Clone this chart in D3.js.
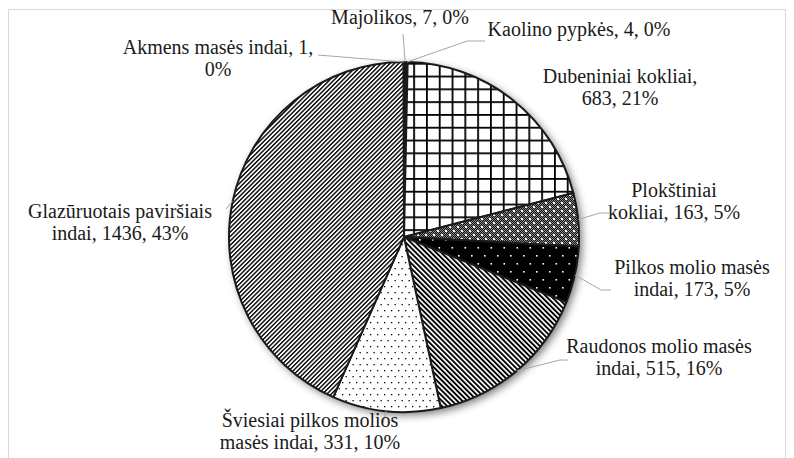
<!DOCTYPE html>
<html>
<head>
<meta charset="utf-8">
<script src="https://cdn.jsdelivr.net/npm/d3@7"></script>
<style>
  body { margin: 0; background: #fff; }
  svg text { font-family: "Liberation Serif", "Times New Roman", serif; fill: #1a1a1a; }
</style>
</head>
<body>
<div id="chart"></div>
<script>
// categories in clockwise order from 12 o'clock
const categories = [
  "Majolikos", "Kaolino pypkės", "Dubeniniai kokliai", "Plokštiniai kokliai",
  "Pilkos molio masės indai", "Raudonos molio masės indai",
  "Šviesiai pilkos molios masės indai", "Glazūruotais paviršiais indai",
  "Akmens masės indai"
];
const counts = [7, 4, 683, 163, 173, 515, 331, 1436, 1];
const percents = ["0%", "0%", "21%", "5%", "5%", "16%", "10%", "43%", "0%"];
// label text, broken into lines as in the original
const labelLines = [
  ["Majolikos, 7, 0%"],
  ["Kaolino pypkės, 4, 0%"],
  ["Dubeniniai kokliai,", "683, 21%"],
  ["Plokštiniai", "kokliai, 163, 5%"],
  ["Pilkos molio masės", "indai, 173, 5%"],
  ["Raudonos molio masės", "indai, 515, 16%"],
  ["Šviesiai pilkos molios", "masės indai, 331, 10%"],
  ["Glazūruotais paviršiais", "indai, 1436, 43%"],
  ["Akmens masės indai, 1,", "0%"]
];
const fills = ["black", "black", "url(#grid)", "url(#checker)", "url(#blackdots)",
  "url(#bstripes)", "url(#dots)", "url(#fstripes)", "url(#fstripes)"];

// layout: label centre [x, baseline of first line], leader points (null = no leader)
const labelLayout = [
  { c: [400, 24], leader: [[403, 34]] },
  { c: [579, 36], leader: [[467, 41], [485, 41]] },
  { c: [620, 83], leader: null },
  { c: [674, 197], leader: [[600, 213], [609, 213]] },
  { c: [692, 274], leader: [[601, 290], [611, 290]] },
  { c: [659, 353], leader: [[560, 360], [568, 360]] },
  { c: [310, 427], leader: [[383, 423]] },
  { c: [120, 218], leader: [[226, 209]] },
  { c: [218, 54], leader: [[318, 55]] }
];

const W = 794, H = 458;
const cx = 404, cy = 237, R = 175;

const svg = d3.select("#chart").append("svg")
  .attr("width", W).attr("height", H);

const defs = svg.append("defs");

const shadow = defs.append("filter").attr("id", "shadow")
  .attr("x", "-20%").attr("y", "-20%").attr("width", "140%").attr("height", "140%");
shadow.append("feGaussianBlur").attr("in", "SourceAlpha").attr("stdDeviation", 4).attr("result", "b");
shadow.append("feOffset").attr("in", "b").attr("dx", 3).attr("dy", 3).attr("result", "o");
shadow.append("feComponentTransfer").attr("in", "o").attr("result", "s")
  .append("feFuncA").attr("type", "linear").attr("slope", 0.55);
const merge = shadow.append("feMerge");
merge.append("feMergeNode").attr("in", "s");
merge.append("feMergeNode").attr("in", "SourceGraphic");

// grid pattern
const grid = defs.append("pattern").attr("id", "grid").attr("patternUnits", "userSpaceOnUse")
  .attr("width", 12.8).attr("height", 12.8).attr("x", cx + 2).attr("y", 5);
grid.append("rect").attr("width", 12.8).attr("height", 12.8).attr("fill", "#fff");
grid.append("rect").attr("width", 1.8).attr("height", 12.8).attr("fill", "#000");
grid.append("rect").attr("width", 12.8).attr("height", 1.8).attr("fill", "#000");

// dark checker + white dots
const checker = defs.append("pattern").attr("id", "checker").attr("patternUnits", "userSpaceOnUse")
  .attr("width", 8).attr("height", 8);
checker.append("rect").attr("width", 8).attr("height", 8).attr("fill", "#888");
for (let i = 0; i < 8; i++) {
  for (let j = 0; j < 8; j++) {
    if ((i + j) % 2 === 0) checker.append("rect").attr("x", i).attr("y", j)
      .attr("width", 1).attr("height", 1).attr("fill", "#111");
  }
}
checker.append("rect").attr("x", 1).attr("y", 1).attr("width", 2).attr("height", 2).attr("fill", "#fff");
checker.append("rect").attr("x", 5).attr("y", 5).attr("width", 2).attr("height", 2).attr("fill", "#fff");

// black with white dots
const bd = defs.append("pattern").attr("id", "blackdots").attr("patternUnits", "userSpaceOnUse")
  .attr("width", 13).attr("height", 16);
bd.append("rect").attr("width", 13).attr("height", 16).attr("fill", "#000");
bd.append("rect").attr("x", 2).attr("y", 2).attr("width", 1.6).attr("height", 1.6).attr("fill", "#fff");
bd.append("rect").attr("x", 8.5).attr("y", 10).attr("width", 1.6).attr("height", 1.6).attr("fill", "#fff");

// white with black dots
const dots = defs.append("pattern").attr("id", "dots").attr("patternUnits", "userSpaceOnUse")
  .attr("width", 7).attr("height", 12);
dots.append("rect").attr("width", 7).attr("height", 12).attr("fill", "#fff");
dots.append("rect").attr("x", 1).attr("y", 1).attr("width", 1.3).attr("height", 1.3).attr("fill", "#000");
dots.append("rect").attr("x", 4.5).attr("y", 7).attr("width", 1.3).attr("height", 1.3).attr("fill", "#000");

// stripes "/" (thin) and "\" (thicker)
function stripes(id, step, width, angle) {
  const p = defs.append("pattern").attr("id", id).attr("patternUnits", "userSpaceOnUse")
    .attr("width", step).attr("height", step).attr("patternTransform", `rotate(${angle})`);
  p.append("rect").attr("width", step).attr("height", step).attr("fill", "#fff");
  p.append("rect").attr("width", width).attr("height", step).attr("fill", "#000");
}
stripes("fstripes", 3.1, 1.4, 45);
stripes("bstripes", 3.6, 1.9, -45);

// chart area border
svg.append("rect").attr("x", 8.5).attr("y", 9.5).attr("width", 777).attr("height", 470)
  .attr("fill", "none").attr("stroke", "#d9d9d9").attr("stroke-width", 1);

const data = categories.map((c, i) => ({ name: c, value: counts[i], pct: percents[i], i }));

const pie = d3.pie().value(d => d.value).sort(null);
const arcs = pie(data);
const arc = d3.arc().innerRadius(0).outerRadius(R);

const g = svg.append("g").attr("transform", `translate(${cx},${cy})`);

g.append("circle").attr("r", R).attr("fill", "#fff").attr("filter", "url(#shadow)");

g.selectAll("path.slice")
  .data(arcs)
  .enter().append("path")
  .attr("class", "slice")
  .attr("d", arc)
  .attr("fill", d => fills[d.data.i])
  .attr("stroke", "#1a1a1a")
  .attr("stroke-width", 2)
  .attr("stroke-linejoin", "round");

// leader lines
const edge = d3.arc().innerRadius(R).outerRadius(R);
arcs.forEach(d => {
  const lay = labelLayout[d.data.i];
  if (!lay.leader) return;
  const [ex, ey] = edge.centroid(d);
  const pts = [[cx + ex, cy + ey]].concat(lay.leader);
  svg.append("path")
    .attr("d", d3.line()(pts.reverse()))
    .attr("fill", "none")
    .attr("stroke", "#a6a6a6")
    .attr("stroke-width", 1);
});

// labels
data.forEach(d => {
  const lay = labelLayout[d.i];
  const t = svg.append("text")
    .attr("x", lay.c[0]).attr("y", lay.c[1])
    .attr("text-anchor", "middle")
    .style("font-size", "20px");
  labelLines[d.i].forEach((line, k) => {
    t.append("tspan").attr("x", lay.c[0]).attr("dy", k === 0 ? 0 : 22).text(line);
  });
});
</script>
</body>
</html>
